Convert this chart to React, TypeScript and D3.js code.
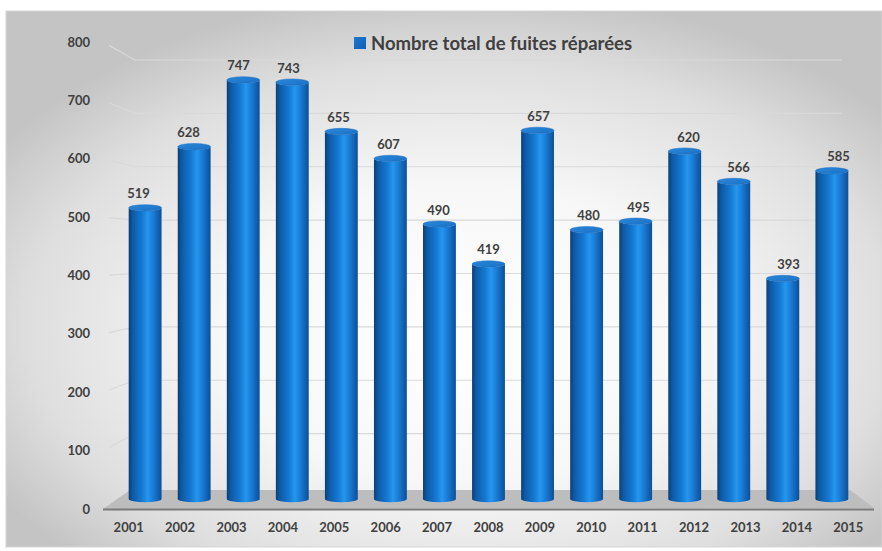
import React from "react";
import * as d3 from "d3";

const years = ["2001","2002","2003","2004","2005","2006","2007","2008","2009","2010","2011","2012","2013","2014","2015"];
const repairs = [519, 628, 747, 743, 655, 607, 490, 419, 657, 480, 495, 620, 566, 393, 585];
const yTicks = [0, 100, 200, 300, 400, 500, 600, 700, 800];
const seriesName = "Nombre total de fuites réparées";

const W = 882;
const H = 551;
const FONT = "Lato, 'Noto Sans', sans-serif";
const TXT = "#404040";

// planes of the 3D box
const front = { x0: 103, x1: 874 };
const back = { x0: 135, x1: 842 };
const lerp = (a: number, b: number, t: number) => a + (b - a) * t;

const yFront = d3.scaleLinear().domain([0, 800]).range([509, 42]);
const yBack = d3.scaleLinear().domain([0, 800]).range([487, 60]);
const yBar = d3.scaleLinear().domain([0, 800]).range([499, 50.2]);

const barT = 0.55;
const labT = 0.33;
const xFront = d3.scalePoint<string>().domain(years).range([front.x0, front.x1]).padding(0.5);
const xBar = d3.scalePoint<string>().domain(years)
  .range([lerp(front.x0, back.x0, barT), lerp(front.x1, back.x1, barT)]).padding(0.5);
const xLab = d3.scalePoint<string>().domain(years)
  .range([lerp(front.x0, back.x0, labT), lerp(front.x1, back.x1, labT)]).padding(0.5);

export default function App() {
  const bw = xBar.step() * 0.67;
  const rx = bw / 2;
  const ry = 3.2;
  return (
    <svg width={W} height={H} style={{ position: "absolute", left: 0, top: 0 }} xmlns="http://www.w3.org/2000/svg">
      <defs>
        <radialGradient id="bg" cx="52%" cy="58%" r="62%" fx="52%" fy="62%">
          <stop offset="0%" stopColor="#ffffff" />
          <stop offset="45%" stopColor="#f7f7f7" />
          <stop offset="80%" stopColor="#dedede" />
          <stop offset="100%" stopColor="#c4c4c4" />
        </radialGradient>
        <linearGradient id="cyl" x1="0" x2="1" y1="0" y2="0">
          <stop offset="0%" stopColor="#0a3f78" />
          <stop offset="12%" stopColor="#0d5aa6" />
          <stop offset="40%" stopColor="#1479d2" />
          <stop offset="58%" stopColor="#2596ee" />
          <stop offset="72%" stopColor="#1b80da" />
          <stop offset="100%" stopColor="#0c4f98" />
        </linearGradient>
        <linearGradient id="cap" x1="0" x2="1" y1="0" y2="1">
          <stop offset="0%" stopColor="#2a88da" />
          <stop offset="100%" stopColor="#1a70c4" />
        </linearGradient>
        <linearGradient id="leg" x1="0" x2="1" y1="0" y2="1">
          <stop offset="0%" stopColor="#1f78d0" />
          <stop offset="100%" stopColor="#0f5eb0" />
        </linearGradient>
      </defs>

      <rect x={6} y={11} width={W - 6} height={536} fill="url(#bg)" stroke="#d6d6d6" strokeWidth={1} />

      {/* gridlines: side wall + back wall */}
      <g stroke="#d9d9d9" strokeWidth={1.2} fill="none">
        {yTicks.filter((t) => t > 0).map((t) => (
          <path key={t} d={`M${front.x0 + 6},${lerp(yFront(t), yBack(t), 6 / 32)} L${back.x0},${yBack(t)} L${back.x1},${yBack(t)}`} />
        ))}
      </g>

      {/* floor */}
      <polygon
        points={`${front.x0},509 ${back.x0 - 5},490 ${back.x1 + 8},490 ${front.x1},508`}
        fill="#bdbdbd"
      />
      <line x1={front.x0} x2={front.x1} y1={509.5} y2={509.5} stroke="#7a7a7a" strokeWidth={2.2} />

      {/* y axis labels */}
      <g fontFamily={FONT} fontWeight={700} fontSize={13} fill={TXT} textAnchor="end">
        {yTicks.map((t) => (
          <text key={t} x={90} y={yFront(t)} dy="0.35em">{t}</text>
        ))}
      </g>

      {/* bars */}
      {years.map((yr, i) => {
        const cx = xBar(yr)!;
        const x0 = cx - rx;
        const x1 = cx + rx;
        const yt = yBar(repairs[i]);
        const yb = yBar(0);
        const body = `M${x0},${yt} L${x0},${yb} A${rx},${ry} 0 0 0 ${x1},${yb} L${x1},${yt} A${rx},${ry} 0 0 1 ${x0},${yt} Z`;
        return (
          <g key={yr}>
            <path d={body} fill="url(#cyl)" />
            <ellipse cx={cx} cy={yt} rx={rx} ry={ry} fill="url(#cap)" stroke="#1a6cc0" strokeWidth={0.5} />
          </g>
        );
      })}

      {/* value labels */}
      <g fontFamily={FONT} fontWeight={700} fontSize={13} fill={TXT} textAnchor="middle">
        {years.map((yr, i) => (
          <text key={yr} x={xLab(yr)!} y={yBar(repairs[i]) - 9.5}>{repairs[i]}</text>
        ))}
      </g>

      {/* category labels */}
      <g fontFamily={FONT} fontWeight={700} fontSize={13} fill={TXT} textAnchor="middle">
        {years.map((yr) => (
          <text key={yr} x={xFront(yr)!} y={532}>{yr}</text>
        ))}
      </g>

      {/* legend */}
      <rect x={354} y={37} width={12} height={12} fill="url(#leg)" />
      <text x={371} y={49.5} fontFamily={FONT} fontWeight={700} fontSize={18.5} fill={TXT}>{seriesName}</text>
    </svg>
  );
}
